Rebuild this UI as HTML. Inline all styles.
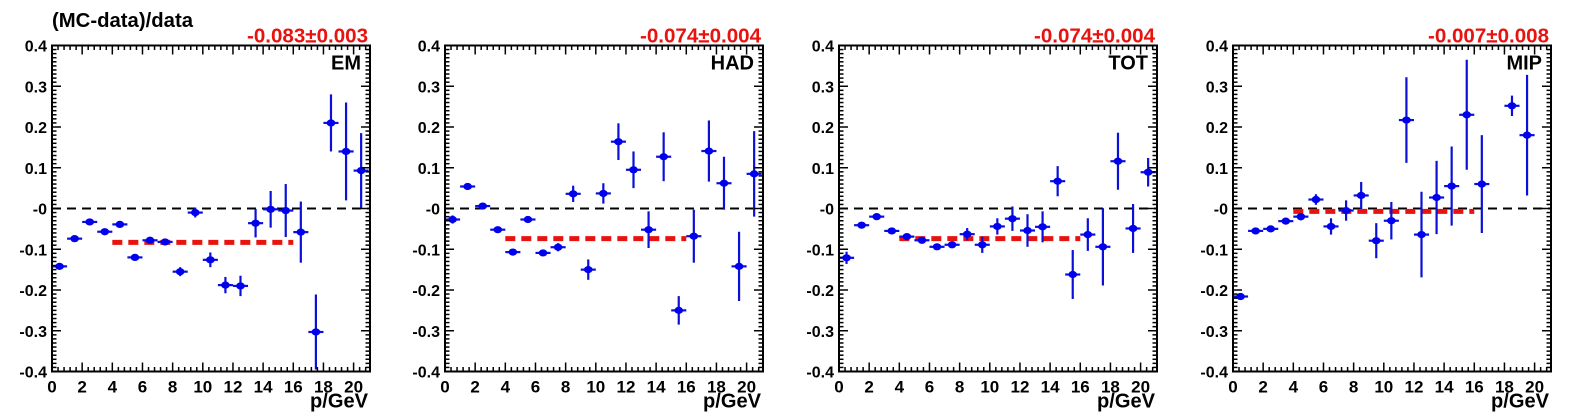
<!DOCTYPE html>
<html><head><meta charset="utf-8"><style>
html,body{margin:0;padding:0;background:#fff;}
svg{display:block;font-family:"Liberation Sans",Arial,sans-serif;font-weight:bold;}
</style></head><body>
<svg id="s" width="1575" height="419" xmlns="http://www.w3.org/2000/svg"></svg>
<script>
const S=document.getElementById('s');
let h='';
h+='<text x="52" y="27" font-size="20" textLength="141" lengthAdjust="spacingAndGlyphs">(MC-data)/data</text>';
const panels=[
{L:52,name:'EM',fit:-0.083,ft:'-0.083\u00b10.003',d:[
[0.5,-0.142,0.006],[1.5,-0.074,0.005],[2.5,-0.033,0.004],[3.5,-0.057,0.005],[4.5,-0.039,0.005],[5.5,-0.120,0.005],[6.5,-0.078,0.006],[7.5,-0.082,0.008],[8.5,-0.155,0.011],[9.5,-0.010,0.012],[10.5,-0.126,0.018],[11.5,-0.188,0.02],[12.5,-0.190,0.025],[13.5,-0.036,0.035],[14.5,-0.002,0.045],[15.5,-0.005,0.065],[16.5,-0.058,0.075],[17.5,-0.303,0.092],[18.5,0.21,0.07],[19.5,0.14,0.12],[20.5,0.093,0.092]]},
{L:445,name:'HAD',fit:-0.074,ft:'-0.074\u00b10.004',d:[
[0.5,-0.027,0.01],[1.5,0.054,0.004],[2.5,0.006,0.004],[3.5,-0.052,0.004],[4.5,-0.107,0.004],[5.5,-0.027,0.005],[6.5,-0.109,0.006],[7.5,-0.095,0.01],[8.5,0.036,0.02],[9.5,-0.150,0.025],[10.5,0.037,0.025],[11.5,0.164,0.045],[12.5,0.095,0.045],[13.5,-0.052,0.045],[14.5,0.127,0.06],[15.5,-0.25,0.035],[16.5,-0.068,0.065],[17.5,0.141,0.075],[18.5,0.062,0.065],[19.5,-0.142,0.085],[20.5,0.085,0.105]]},
{L:839,name:'TOT',fit:-0.074,ft:'-0.074\u00b10.004',d:[
[0.5,-0.121,0.015],[1.5,-0.041,0.004],[2.5,-0.020,0.004],[3.5,-0.055,0.005],[4.5,-0.069,0.005],[5.5,-0.078,0.006],[6.5,-0.094,0.007],[7.5,-0.089,0.008],[8.5,-0.063,0.015],[9.5,-0.089,0.02],[10.5,-0.044,0.02],[11.5,-0.025,0.03],[12.5,-0.054,0.04],[13.5,-0.045,0.038],[14.5,0.067,0.037],[15.5,-0.162,0.06],[16.5,-0.064,0.04],[17.5,-0.094,0.095],[18.5,0.116,0.07],[19.5,-0.049,0.06],[20.5,0.089,0.035]]},
{L:1233,name:'MIP',fit:-0.007,ft:'-0.007\u00b10.008',d:[
[0.5,-0.216,0.005],[1.5,-0.055,0.004],[2.5,-0.05,0.005],[3.5,-0.031,0.008],[4.5,-0.02,0.009],[5.5,0.022,0.013],[6.5,-0.044,0.02],[7.5,-0.005,0.025],[8.5,0.032,0.033],[9.5,-0.079,0.043],[10.5,-0.03,0.046],[11.5,0.217,0.105],[12.5,-0.064,0.105],[13.5,0.027,0.09],[14.5,0.055,0.097],[15.5,0.23,0.135],[16.5,0.06,0.12],[18.5,0.252,0.025],[19.5,0.18,0.148]]}
];
const T=45.5,B=371.5,W=318,XS=15.08;
const Y=v=>208.5-v*407.5;
panels.forEach((p,i)=>{
 const L=p.L,R=L+W,X=x=>L+x*XS;
 h+=`<clipPath id="c${i}"><rect x="${L}" y="${T}" width="${W}" height="${B-T}"/></clipPath>`;
 h+=`<line x1="${L}" y1="${Y(0)}" x2="${R}" y2="${Y(0)}" stroke="#000" stroke-width="2" stroke-dasharray="9,6"/>`;
 h+=`<line x1="${X(4)}" y1="${Y(p.fit)}" x2="${X(16)}" y2="${Y(p.fit)}" stroke="#e8120f" stroke-width="5" stroke-dasharray="10,6"/>`;
 h+=`<g clip-path="url(#c${i})" stroke="#0a10d8" stroke-width="2.2" fill="#0000ee">`;
 p.d.forEach(([x,y,e])=>{
  h+=`<line x1="${X(x-0.5)}" y1="${Y(y)}" x2="${X(x+0.5)}" y2="${Y(y)}"/>`;
  h+=`<line x1="${X(x)}" y1="${Y(y-e)}" x2="${X(x)}" y2="${Y(y+e)}"/>`;
  h+=`<ellipse cx="${X(x)}" cy="${Y(y)}" rx="4.3" ry="3.6" stroke="none"/>`;
 });
 h+='</g>';
 h+=`<rect x="${L}" y="${T}" width="${W}" height="${B-T}" fill="none" stroke="#000" stroke-width="2"/>`;
 for(let k=-40;k<=40;k++){
  const yy=Y(k/100),len=(k%10==0)?9:4.5;
  h+=`<line x1="${L}" y1="${yy}" x2="${L+len}" y2="${yy}" stroke="#000" stroke-width="1.5"/>`;
  h+=`<line x1="${R}" y1="${yy}" x2="${R-len}" y2="${yy}" stroke="#000" stroke-width="1.5"/>`;
  if(k%10==0){
   const lab=k==0?'-0':(k/100).toFixed(1);
   h+=`<text x="${L-5}" y="${yy+6}" font-size="16" text-anchor="end">${lab}</text>`;
  }
 }
 for(let k=0;k<=60;k++){
  const xv=k*0.4; if(xv>21.05)break;
  const xx=X(xv),maj=(k%5==0),len=maj?9:4.5;
  h+=`<line x1="${xx}" y1="${B}" x2="${xx}" y2="${B-len}" stroke="#000" stroke-width="1.5"/>`;
  h+=`<line x1="${xx}" y1="${T}" x2="${xx}" y2="${T+len}" stroke="#000" stroke-width="1.5"/>`;
  if(maj) h+=`<text x="${xx}" y="${B+21}" font-size="17" text-anchor="middle">${Math.round(xv)}</text>`;
 }
 h+=`<text x="${R-2}" y="${B+36}" font-size="20" text-anchor="end" textLength="58" lengthAdjust="spacingAndGlyphs">p/GeV</text>`;
 h+=`<text x="${R-2}" y="${T-3}" font-size="20" fill="#e8120f" text-anchor="end" textLength="121" lengthAdjust="spacingAndGlyphs">${p.ft}</text>`;
 h+=`<text x="${R-9}" y="${T+24}" font-size="20" text-anchor="end">${p.name}</text>`;
});
S.innerHTML=h;
</script>
</body></html>
